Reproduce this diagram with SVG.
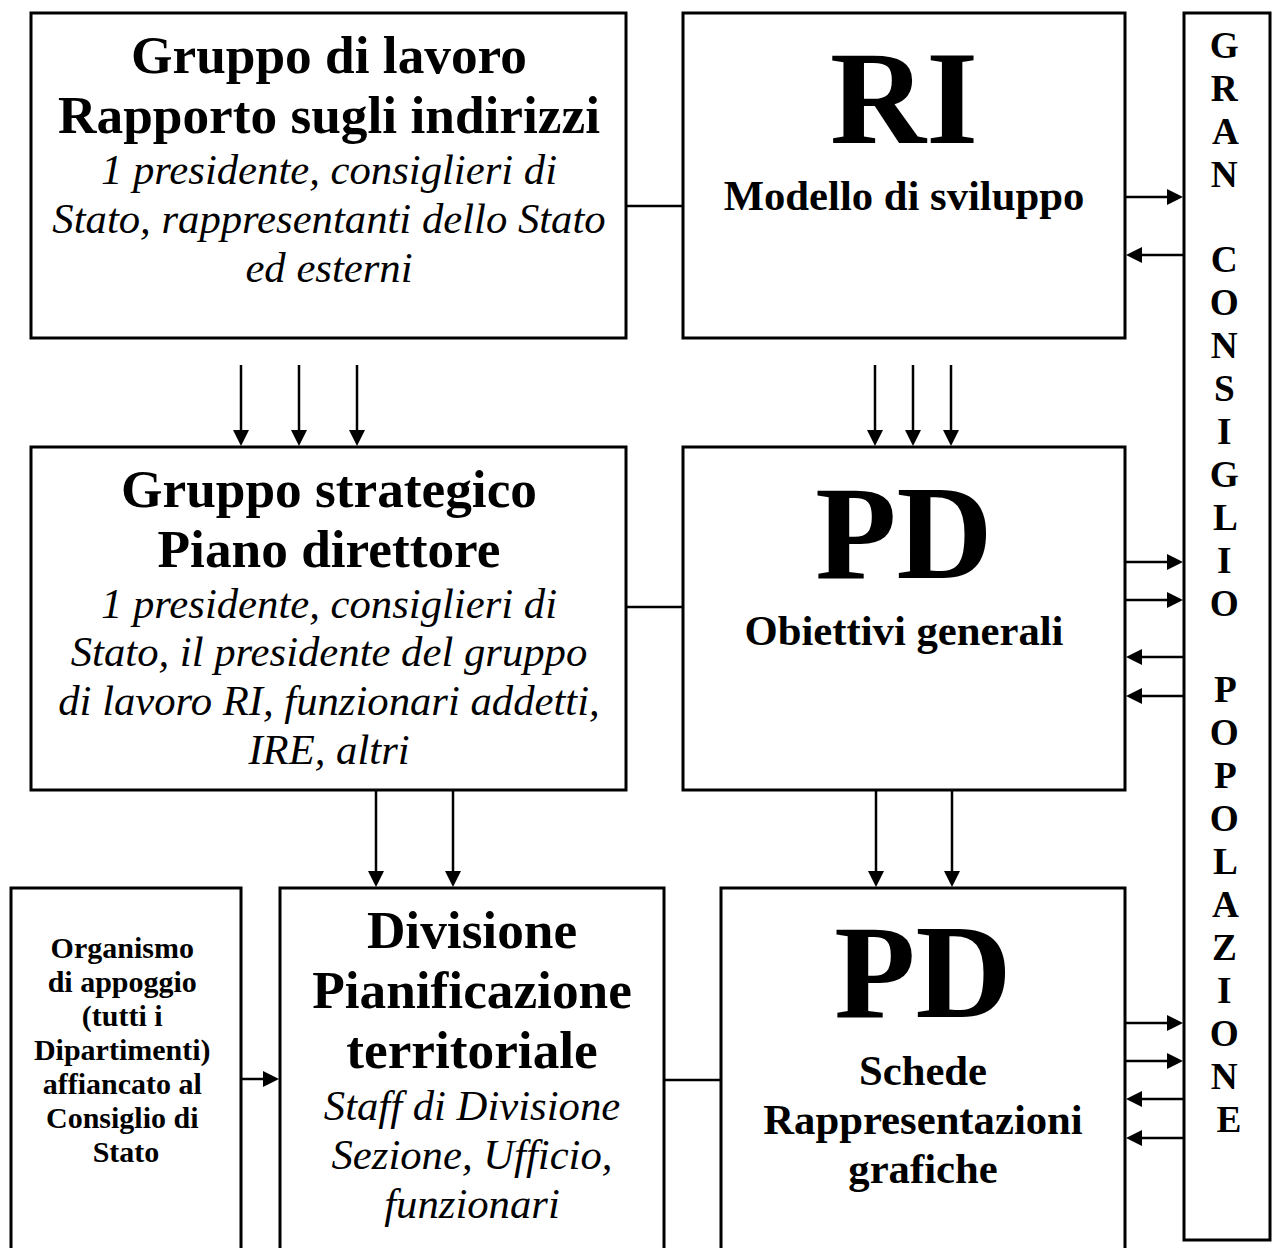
<svg xmlns="http://www.w3.org/2000/svg" width="1272" height="1248" viewBox="0 0 1272 1248">
<defs>
<path id="hd" d="M0,0 L-16,-8 L-16,8 z" fill="#000"/>
<style>
.box{fill:#fff;stroke:#000;stroke-width:3}
.ln{stroke:#000;stroke-width:2.5;fill:none}
text{font-family:"Liberation Serif","Times New Roman",serif;fill:#000;text-anchor:middle}
.b40{font-weight:bold;font-size:53.3px}
.b32{font-weight:bold;font-size:42.7px}
.i32{font-style:italic;font-size:42.7px}
.huge{font-weight:bold;font-size:133px}
.b22{font-weight:bold;font-size:30px}
.col{font-weight:bold;font-size:37.3px}
</style>
</defs>
<rect width="1272" height="1248" fill="#fff"/>

<g id="connectors">
<line class="ln" x1="626" y1="206" x2="683" y2="206"/>
<line class="ln" x1="626" y1="607" x2="683" y2="607"/>
<line class="ln" x1="664" y1="1080" x2="721" y2="1080"/>
<!-- down arrows -->
<line class="ln" x1="241" y1="365" x2="241" y2="435"/><use href="#hd" transform="translate(241,446) rotate(90)"/>
<line class="ln" x1="299" y1="365" x2="299" y2="435"/><use href="#hd" transform="translate(299,446) rotate(90)"/>
<line class="ln" x1="357" y1="365" x2="357" y2="435"/><use href="#hd" transform="translate(357,446) rotate(90)"/>
<line class="ln" x1="875" y1="365" x2="875" y2="435"/><use href="#hd" transform="translate(875,446) rotate(90)"/>
<line class="ln" x1="913" y1="365" x2="913" y2="435"/><use href="#hd" transform="translate(913,446) rotate(90)"/>
<line class="ln" x1="951" y1="365" x2="951" y2="435"/><use href="#hd" transform="translate(951,446) rotate(90)"/>
<line class="ln" x1="376" y1="790" x2="376" y2="876"/><use href="#hd" transform="translate(376,887) rotate(90)"/>
<line class="ln" x1="453" y1="790" x2="453" y2="876"/><use href="#hd" transform="translate(453,887) rotate(90)"/>
<line class="ln" x1="876" y1="790" x2="876" y2="876"/><use href="#hd" transform="translate(876,887) rotate(90)"/>
<line class="ln" x1="952" y1="790" x2="952" y2="876"/><use href="#hd" transform="translate(952,887) rotate(90)"/>
<!-- right arrows into Gran Consiglio -->
<line class="ln" x1="1125" y1="197" x2="1172" y2="197"/><use href="#hd" transform="translate(1183,197)"/>
<line class="ln" x1="1125" y1="562" x2="1172" y2="562"/><use href="#hd" transform="translate(1183,562)"/>
<line class="ln" x1="1125" y1="600" x2="1172" y2="600"/><use href="#hd" transform="translate(1183,600)"/>
<line class="ln" x1="1125" y1="1023" x2="1172" y2="1023"/><use href="#hd" transform="translate(1183,1023)"/>
<line class="ln" x1="1125" y1="1061" x2="1172" y2="1061"/><use href="#hd" transform="translate(1183,1061)"/>
<!-- left arrows from Gran Consiglio -->
<line class="ln" x1="1184" y1="255" x2="1137" y2="255"/><use href="#hd" transform="translate(1126,255) rotate(180)"/>
<line class="ln" x1="1184" y1="657" x2="1137" y2="657"/><use href="#hd" transform="translate(1126,657) rotate(180)"/>
<line class="ln" x1="1184" y1="696" x2="1137" y2="696"/><use href="#hd" transform="translate(1126,696) rotate(180)"/>
<line class="ln" x1="1184" y1="1099" x2="1137" y2="1099"/><use href="#hd" transform="translate(1126,1099) rotate(180)"/>
<line class="ln" x1="1184" y1="1138" x2="1137" y2="1138"/><use href="#hd" transform="translate(1126,1138) rotate(180)"/>
<!-- Organismo to Divisione -->
<line class="ln" x1="241" y1="1079" x2="268" y2="1079"/><use href="#hd" transform="translate(279,1079)"/>
</g>

<g id="gruppo-lavoro">
<rect class="box" x="31" y="13" width="595" height="325"/>
<text class="b40" x="329" y="73">Gruppo di lavoro</text>
<text class="b40" x="329" y="133">Rapporto sugli indirizzi</text>
<text class="i32" x="329" y="184">1 presidente, consiglieri di</text>
<text class="i32" x="329" y="233">Stato, rappresentanti dello Stato</text>
<text class="i32" x="329" y="282">ed esterni</text>
</g>

<g id="ri">
<rect class="box" x="683" y="13" width="442" height="325"/>
<text class="huge" x="904" y="143">RI</text>
<text class="b32" x="904" y="210">Modello di sviluppo</text>
</g>

<g id="gran-consiglio">
<rect class="box" x="1184" y="13" width="86" height="1227"/>
<text class="col" x="1229">
<tspan x="1229" y="58">G</tspan>
<tspan x="1229" y="101">R</tspan>
<tspan x="1229" y="144">A</tspan>
<tspan x="1229" y="187">N</tspan>
<tspan x="1229" y="272">C</tspan>
<tspan x="1229" y="315">O</tspan>
<tspan x="1229" y="358">N</tspan>
<tspan x="1229" y="401">S</tspan>
<tspan x="1229" y="444">I</tspan>
<tspan x="1229" y="487">G</tspan>
<tspan x="1229" y="530">L</tspan>
<tspan x="1229" y="573">I</tspan>
<tspan x="1229" y="616">O</tspan>
<tspan x="1229" y="702">P</tspan>
<tspan x="1229" y="745">O</tspan>
<tspan x="1229" y="788">P</tspan>
<tspan x="1229" y="831">O</tspan>
<tspan x="1229" y="874">L</tspan>
<tspan x="1229" y="917">A</tspan>
<tspan x="1229" y="960">Z</tspan>
<tspan x="1229" y="1003">I</tspan>
<tspan x="1229" y="1046">O</tspan>
<tspan x="1229" y="1089">N</tspan>
<tspan x="1229" y="1132">E</tspan>
</text>
</g>

<g id="gruppo-strategico">
<rect class="box" x="31" y="447" width="595" height="343"/>
<text class="b40" x="329" y="507">Gruppo strategico</text>
<text class="b40" x="329" y="567">Piano direttore</text>
<text class="i32" x="329" y="618">1 presidente, consiglieri di</text>
<text class="i32" x="329" y="666">Stato, il presidente del gruppo</text>
<text class="i32" x="329" y="715">di lavoro RI, funzionari addetti,</text>
<text class="i32" x="329" y="764">IRE, altri</text>
</g>

<g id="pd-obiettivi">
<rect class="box" x="683" y="447" width="442" height="343"/>
<text class="huge" x="904" y="578">PD</text>
<text class="b32" x="904" y="645">Obiettivi generali</text>
</g>

<g id="organismo">
<rect class="box" x="11" y="888" width="230" height="380"/>
<text class="b22" x="126">
<tspan x="126" y="958">Organismo</tspan>
<tspan x="126" y="992">di appoggio</tspan>
<tspan x="126" y="1026">(tutti i</tspan>
<tspan x="126" y="1060">Dipartimenti)</tspan>
<tspan x="126" y="1094">affiancato al</tspan>
<tspan x="126" y="1128">Consiglio di</tspan>
<tspan x="126" y="1162">Stato</tspan>
</text>
</g>

<g id="divisione">
<rect class="box" x="280" y="888" width="384" height="380"/>
<text class="b40" x="472" y="948">Divisione</text>
<text class="b40" x="472" y="1008">Pianificazione</text>
<text class="b40" x="472" y="1068">territoriale</text>
<text class="i32" x="472" y="1120">Staff di Divisione</text>
<text class="i32" x="472" y="1169">Sezione, Ufficio,</text>
<text class="i32" x="472" y="1218">funzionari</text>
</g>

<g id="pd-schede">
<rect class="box" x="721" y="888" width="404" height="380"/>
<text class="huge" x="923" y="1017">PD</text>
<text class="b32" x="923" y="1085">Schede</text>
<text class="b32" x="923" y="1134">Rappresentazioni</text>
<text class="b32" x="923" y="1183">grafiche</text>
</g>
</svg>
